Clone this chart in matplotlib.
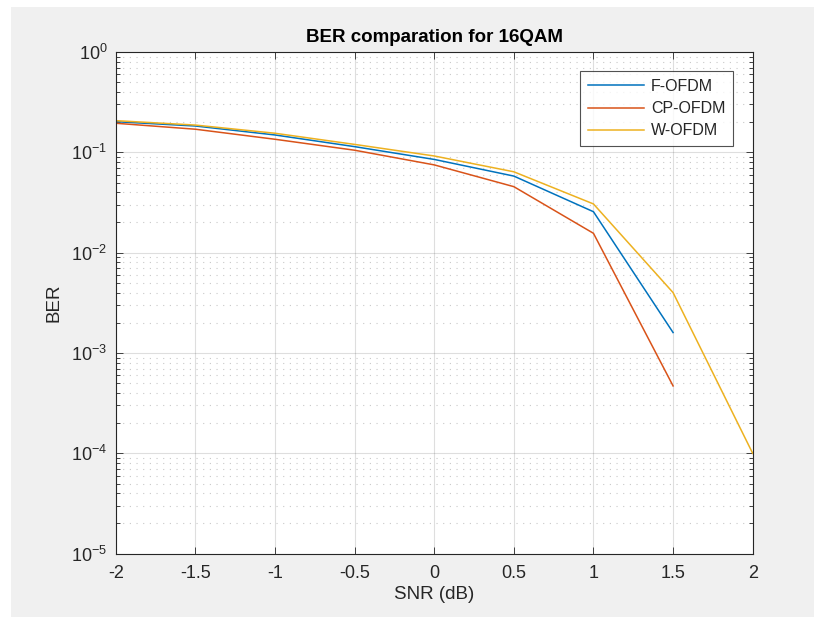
import numpy as np
import matplotlib
matplotlib.use("Agg")
import matplotlib.pyplot as plt
from matplotlib.patches import Rectangle
from matplotlib.ticker import LogLocator, FixedLocator, NullFormatter

plt.rcParams['font.family'] = ['Liberation Sans', 'DejaVu Sans']
plt.rcParams['mathtext.default'] = 'regular'
plt.rcParams['axes.unicode_minus'] = False

snr = [-2, -1.5, -1, -0.5, 0, 0.5, 1, 1.5]
snr_w = [-2, -1.5, -1, -0.5, 0, 0.5, 1, 1.5, 2]
ber_f = [0.202, 0.183, 0.149, 0.114, 0.085, 0.058, 0.0256, 0.0016]
ber_cp = [0.195, 0.170, 0.135, 0.105, 0.075, 0.0455, 0.0156, 0.00047]
ber_w = [0.207, 0.187, 0.155, 0.120, 0.092, 0.064, 0.0306, 0.0040, 0.0001]
labels = ['F-OFDM', 'CP-OFDM', 'W-OFDM']
colors = ['#0072BD', '#D95319', '#EDB120']
xticks = [-2, -1.5, -1, -0.5, 0, 0.5, 1, 1.5, 2]
xticklabels = ['-2', '-1.5', '-1', '-0.5', '0', '0.5', '1', '1.5', '2']

W, H = 814, 617
fig = plt.figure(figsize=(W / 100, H / 100), dpi=100, facecolor='#f0f0f0')
fig.patches.append(Rectangle((0, 1 - 7 / H), 1, 7 / H, transform=fig.transFigure,
                             facecolor='white', edgecolor='none', zorder=-10))
fig.patches.append(Rectangle((0, 0), 11 / W, 1, transform=fig.transFigure,
                             facecolor='white', edgecolor='none', zorder=-10))
ax = fig.add_axes([115.7 / W, 1 - 553.7 / H, (752.7 - 115.7) / W, (553.7 - 52) / H])
ax.set_facecolor('white')

ax.plot(snr, ber_f, color=colors[0], lw=1.1, label=labels[0])
ax.plot(snr, ber_cp, color=colors[1], lw=1.1, label=labels[1])
ax.plot(snr_w, ber_w, color=colors[2], lw=1.1, label=labels[2])

ax.set_yscale('log')
ax.set_xlim(-2, 2)
ax.set_ylim(1e-5, 1)
ax.xaxis.set_major_locator(FixedLocator(xticks))
ax.set_xticklabels(xticklabels)
ax.yaxis.set_major_locator(LogLocator(base=10, numticks=10))
ax.yaxis.set_minor_locator(LogLocator(base=10, subs=np.arange(2, 10), numticks=20))
ax.yaxis.set_minor_formatter(NullFormatter())

tc = '#262626'
ax.tick_params(axis='both', which='both', direction='in', top=True, right=True,
               colors=tc, labelsize=13)
ax.tick_params(axis='both', which='major', length=5, width=0.6)
ax.tick_params(axis='y', which='minor', length=3, width=0.6)
ax.tick_params(axis='x', which='major', pad=8)
ax.tick_params(axis='y', which='major', pad=6)
for s in ax.spines.values():
    s.set_color(tc)
    s.set_linewidth(0.8)

ax.grid(True, which='major', axis='both', color='#262626', alpha=0.15, lw=0.8)
ax.grid(True, which='minor', axis='y', color='#262626', alpha=0.25, lw=0.8,
        linestyle=(0, (1, 5)))
ax.set_axisbelow(True)

ax.set_xlabel('SNR (dB)', fontsize=13.5, color=tc, labelpad=3)
ax.set_ylabel('BER', fontsize=13.5, color=tc, labelpad=6)
ax.set_title('BER comparation for 16QAM', fontsize=13.5, fontweight='bold', color='black', pad=7)

leg = ax.legend(loc='upper right', bbox_to_anchor=(1 - 19.4 / 637, 1 - 19 / 501.7),
                fontsize=11.5, frameon=True, fancybox=False, handlelength=3.5,
                borderaxespad=0, labelspacing=0.45, handletextpad=0.45, borderpad=0.5)
leg.get_frame().set_edgecolor(tc)
leg.get_frame().set_linewidth(0.8)
for t in leg.get_texts():
    t.set_color(tc)

fig.savefig('out.png', dpi=100, facecolor=fig.get_facecolor())
